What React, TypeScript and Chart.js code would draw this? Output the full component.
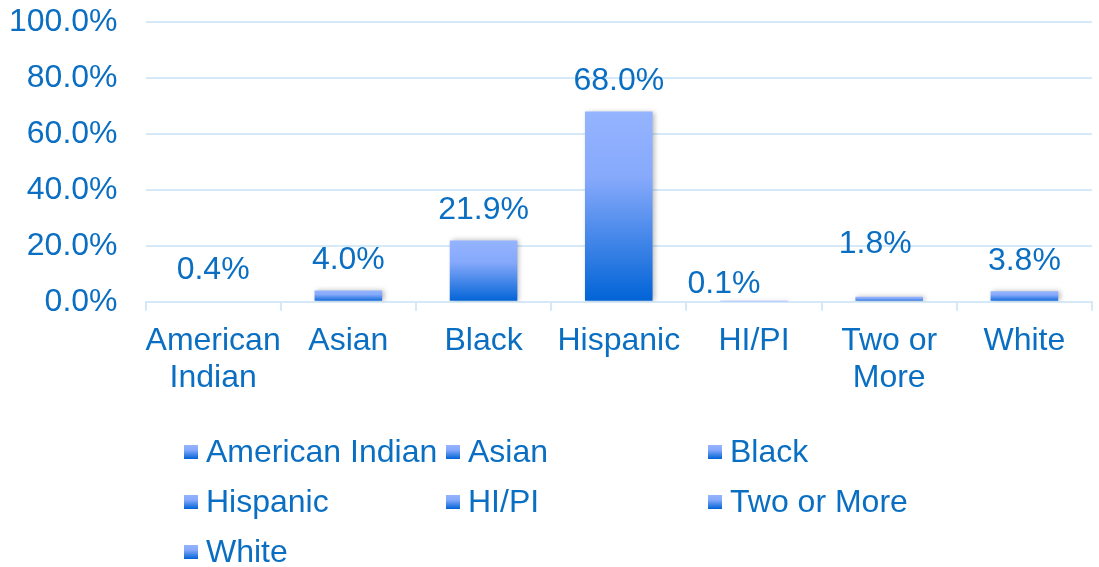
import React, { useEffect, useRef } from "react";
import { Chart, registerables } from "chart.js";

Chart.register(...registerables);

const CATEGORIES: (string | string[])[] = [
  ["American", "Indian"],
  "Asian",
  "Black",
  "Hispanic",
  "HI/PI",
  ["Two or", "More"],
  "White",
];
const LEGEND_LABELS = ["American Indian", "Asian", "Black", "Hispanic", "HI/PI", "Two or More", "White"];
const VALUES = [0.4, 4.0, 21.9, 68.0, 0.1, 1.8, 3.8];
const Y_MIN = 0;
const Y_MAX = 100;
const Y_STEP = 20;

const TEXT = "#0a6fc2";
const GRID = "#d6e9f8";
const TOP_COLOR = "#95b4ff";
const BOTTOM_COLOR = "#0063d6";
const FONT = "Liberation Sans, Arial, sans-serif";
const FS = 32;

// label nudges (px) relative to the default placement above each bar
const LABEL_NUDGE: [number, number][] = [
  [0, 0], [0, 0], [0, 0], [0, 0], [-30, 13], [-14, -23], [0, 0],
];

function barGradient(ctx: CanvasRenderingContext2D, top: number, bottom: number) {
  const g = ctx.createLinearGradient(0, top, 0, bottom);
  g.addColorStop(0, TOP_COLOR);
  g.addColorStop(0.35, "#86a9fb");
  g.addColorStop(1, BOTTOM_COLOR);
  return g;
}

const shadowPlugin = {
  id: "barShadow",
  beforeDatasetsDraw(chart: any) {
    const ctx = chart.ctx;
    ctx.save();
    ctx.shadowColor = "rgba(0,0,0,0.28)";
    ctx.shadowBlur = 5;
    ctx.shadowOffsetX = 2;
    ctx.shadowOffsetY = 0;
  },
  afterDatasetsDraw(chart: any) {
    chart.ctx.restore();
  },
};

const labelPlugin = {
  id: "valueLabels",
  afterDatasetsDraw(chart: any) {
    const ctx = chart.ctx;
    const meta = chart.getDatasetMeta(0);
    ctx.save();
    ctx.font = `${FS}px ${FONT}`;
    ctx.fillStyle = TEXT;
    ctx.textAlign = "center";
    ctx.textBaseline = "middle";
    meta.data.forEach((bar: any, i: number) => {
      const v = chart.data.datasets[0].data[i] as number;
      const [dx, dy] = LABEL_NUDGE[i] || [0, 0];
      ctx.fillText(v.toFixed(1) + "%", bar.x + dx, bar.y - 30 + dy);
    });
    ctx.restore();
  },
};

const legendPlugin = {
  id: "gridLegend",
  afterDraw(chart: any) {
    const ctx = chart.ctx;
    const left = 184;
    const top = 452;
    const colW = 262;
    const rowH = 50;
    const box = 14;
    ctx.save();
    ctx.font = `${FS}px ${FONT}`;
    ctx.textBaseline = "middle";
    ctx.textAlign = "left";
    LEGEND_LABELS.forEach((lab, i) => {
      const col = i % 3;
      const row = Math.floor(i / 3);
      const x = left + col * colW;
      const y = top + row * rowH;
      ctx.fillStyle = barGradient(ctx, y - box / 2, y + box / 2);
      ctx.fillRect(x, y - box / 2, box, box);
      ctx.fillStyle = TEXT;
      ctx.fillText(lab, x + 22, y + 1);
    });
    ctx.restore();
  },
};

export default function App() {
  const ref = useRef<HTMLCanvasElement | null>(null);
  useEffect(() => {
    if (!ref.current) return;
    const chart = new Chart(ref.current, {
      type: "bar",
      data: {
        labels: CATEGORIES as any,
        datasets: [
          {
            data: VALUES,
            backgroundColor: (c: any) => {
              const ch = c.chart;
              const y = ch.scales?.y;
              if (!ch.chartArea || !y || c.raw === undefined) return TOP_COLOR;
              const top = y.getPixelForValue(c.raw);
              const bottom = y.getPixelForValue(0);
              return barGradient(ch.ctx, top, Math.max(bottom, top + 1));
            },
            borderWidth: 0,
            barPercentage: 0.5,
            categoryPercentage: 1.0,
          },
        ],
      },
      options: {
        animation: false,
        responsive: true,
        maintainAspectRatio: false,
        layout: { autoPadding: false, padding: { left: 9, right: 7, top: 22, bottom: 158 } },
        plugins: {
          legend: { display: false },
          tooltip: { enabled: false },
        },
        scales: {
          x: {
            grid: { offset: true, drawOnChartArea: false, tickLength: 9, color: GRID, lineWidth: 2 },
            border: { color: GRID, width: 2 },
            ticks: {
              color: TEXT,
              font: { family: FONT, size: FS, lineHeight: 1.16 },
              padding: 12,
              maxRotation: 0,
              autoSkip: false,
            },
          },
          y: {
            min: Y_MIN,
            max: Y_MAX,
            grid: { color: GRID, lineWidth: 2, drawTicks: true, tickLength: 28, tickColor: "rgba(0,0,0,0)" },
            border: { display: false },
            ticks: {
              stepSize: Y_STEP,
              color: TEXT,
              font: { family: FONT, size: FS },
              padding: 0,
              callback: (v: any) => Number(v).toFixed(1) + "%",
            },
          },
        },
      },
      plugins: [shadowPlugin, labelPlugin, legendPlugin],
    });
    return () => chart.destroy();
  }, []);
  return (
    <div style={{ position: "absolute", left: 0, top: 0, width: 1099, height: 567, background: "#fff" }}>
      <canvas ref={ref} />
    </div>
  );
}
